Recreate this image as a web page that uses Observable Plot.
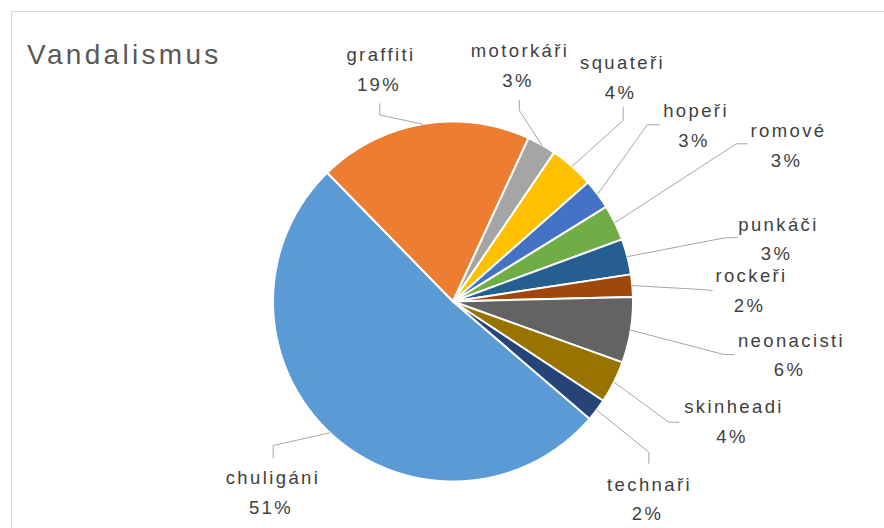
<!DOCTYPE html>
<html><head><meta charset="utf-8">
<script src="https://cdn.jsdelivr.net/npm/d3@7"></script>
<script src="https://cdn.jsdelivr.net/npm/@observablehq/plot@0.6"></script>
<style>
html,body{margin:0;padding:0;background:#fff;overflow:hidden;width:884px;height:528px}
#wrap{position:relative;width:884px;height:528px;overflow:hidden}
#frame{position:absolute;left:11px;top:11px;width:900px;height:540px;border-left:1px solid #d9d9d9;border-top:1px solid #d9d9d9;box-sizing:border-box}
#title{position:absolute;left:27px;top:40.6px;font-size:28px;line-height:28px;color:#595959;white-space:nowrap}
#chart{position:absolute;left:0;top:0}
</style></head><body>
<div id="wrap"><div id="frame"></div><div id="title"></div><div id="chart"></div></div>
<script>
// ---- data ----
const title = "Vandalismus";
const categories = ["chuligáni","graffiti","motorkáři","squateři","hopeři","romové","punkáči","rockeři","neonacisti","skinheadi","technaři"];
const shares = [51.4, 19.2, 2.6, 4.0, 2.7, 3.2, 3.2, 2.0, 5.9, 3.8, 2.0];
const colors = ["#5B9BD5","#ED7D31","#A5A5A5","#FFC000","#4472C4","#70AD47","#255E91","#9E480E","#636363","#997300","#264478"];

// ---- layout ----
const W = 884, H = 528;
const pie = {cx: 452.5, cy: 301, r: 180, startDeg: 130.65};
const labelX = [272.5, 380.5, 519.5, 622, 695.5, 788, 778, 751, 791, 733.5, 649];
const labelY = [483.3, 60.7, 56.7, 68.3, 116.7, 136.7, 230, 281.7, 346, 412.7, 490];
const elbowX = [272.7, 379.3, 518.8, 622.7, 646.7, 735.7, 723.3, 701, 723.3, 668.3, 648.3];
const elbowY = [445, 114.5, 110, 120, 124.3, 143.3, 237.5, 289, 354, 421.7, 451.7];
const endX   = [272.7, 379.3, 518.8, 622.7, 659, 746.7, 736.7, 711.7, 733.3, 678.3, 648.3];
const endY   = [457.3, 103.3, 100, 106.7, 124.3, 143.3, 237, 290, 354, 421.7, 462.7];

// font choice and spacing to match reference text widths
const ctx = document.createElement("canvas").getContext("2d");
function w(font, s){ ctx.font = font; return ctx.measureText(s).width; }
const narrowOK = w("18px 'Liberation Sans Narrow', monospace", "neonacisti mmm") !== w("18px monospace", "neonacisti mmm");
const FONT = narrowOK ? "'Liberation Sans Narrow', 'Liberation Sans', Arial, sans-serif" : "'Liberation Sans', Arial, sans-serif";
const LF = 18.5, TF = 28;
const labelSpacing = Math.max(0, (106 - w(`${LF}px ${FONT}`, "neonacisti")) / 9.5);
const titleSpacing = Math.max(0, (193 - w(`${TF}px ${FONT}`, title)) / 10.5);

const tEl = document.getElementById("title");
tEl.textContent = title;
tEl.style.fontFamily = FONT;
tEl.style.letterSpacing = titleSpacing + "px";

// ---- geometry from values ----
const rad = Math.PI / 180;
const data = categories.map((name, i) => ({name, value: shares[i]}));
const total = d3.sum(shares);
const arcs = d3.pie().sort(null).value(d => d.value)
  .startAngle(pie.startDeg * rad).endAngle(pie.startDeg * rad + 2 * Math.PI)(data);
const pt = (a, r) => [pie.cx + r * Math.sin(a), pie.cy - r * Math.cos(a)];

const slicePts = [];
arcs.forEach(a => {
  const name = a.data.name;
  slicePts.push({name, x: pie.cx, y: pie.cy});
  const n = Math.max(2, Math.ceil((a.endAngle - a.startAngle) / (0.4 * rad)));
  for (let k = 0; k <= n; k++) {
    const t = a.startAngle + (a.endAngle - a.startAngle) * k / n;
    const [x, y] = pt(t, pie.r);
    slicePts.push({name, x, y});
  }
});

const leaderPts = [];
arcs.forEach((a, i) => {
  const name = a.data.name;
  const [x0, y0] = pt((a.startAngle + a.endAngle) / 2, pie.r);
  leaderPts.push({name, x: x0, y: y0}, {name, x: elbowX[i], y: elbowY[i]}, {name, x: endX[i], y: endY[i]});
});

const labels = arcs.map((a, i) => ({
  name: a.data.name,
  pct: Math.round(a.data.value / total * 100) + "%",
  x: labelX[i], y: labelY[i], y2: labelY[i] + 29.7
}));

const chart = Plot.plot({
  width: W, height: H,
  margin: 0,
  x: {domain: [0, W], range: [0, W], axis: null},
  y: {domain: [0, H], range: [0, H], axis: null},
  color: {domain: categories, range: colors},
  style: {background: "transparent", fontFamily: FONT, letterSpacing: labelSpacing + "px", overflow: "visible"},
  marks: [
    Plot.line(slicePts, {x: "x", y: "y", z: "name", fill: "name", stroke: "white", strokeWidth: 2, strokeLinejoin: "round", curve: "linear-closed"}),
    Plot.line(leaderPts, {x: "x", y: "y", z: "name", stroke: "#A6A6A6", strokeWidth: 1}),
    Plot.text(labels, {x: "x", y: "y", text: "name", fontSize: LF, fill: "#404040", textAnchor: "middle", lineAnchor: "bottom"}),
    Plot.text(labels, {x: "x", y: "y2", text: "pct", dx: -2, fontSize: LF, fill: "#404040", textAnchor: "middle", lineAnchor: "bottom"})
  ]
});
document.getElementById("chart").appendChild(chart);
</script>
</body></html>
